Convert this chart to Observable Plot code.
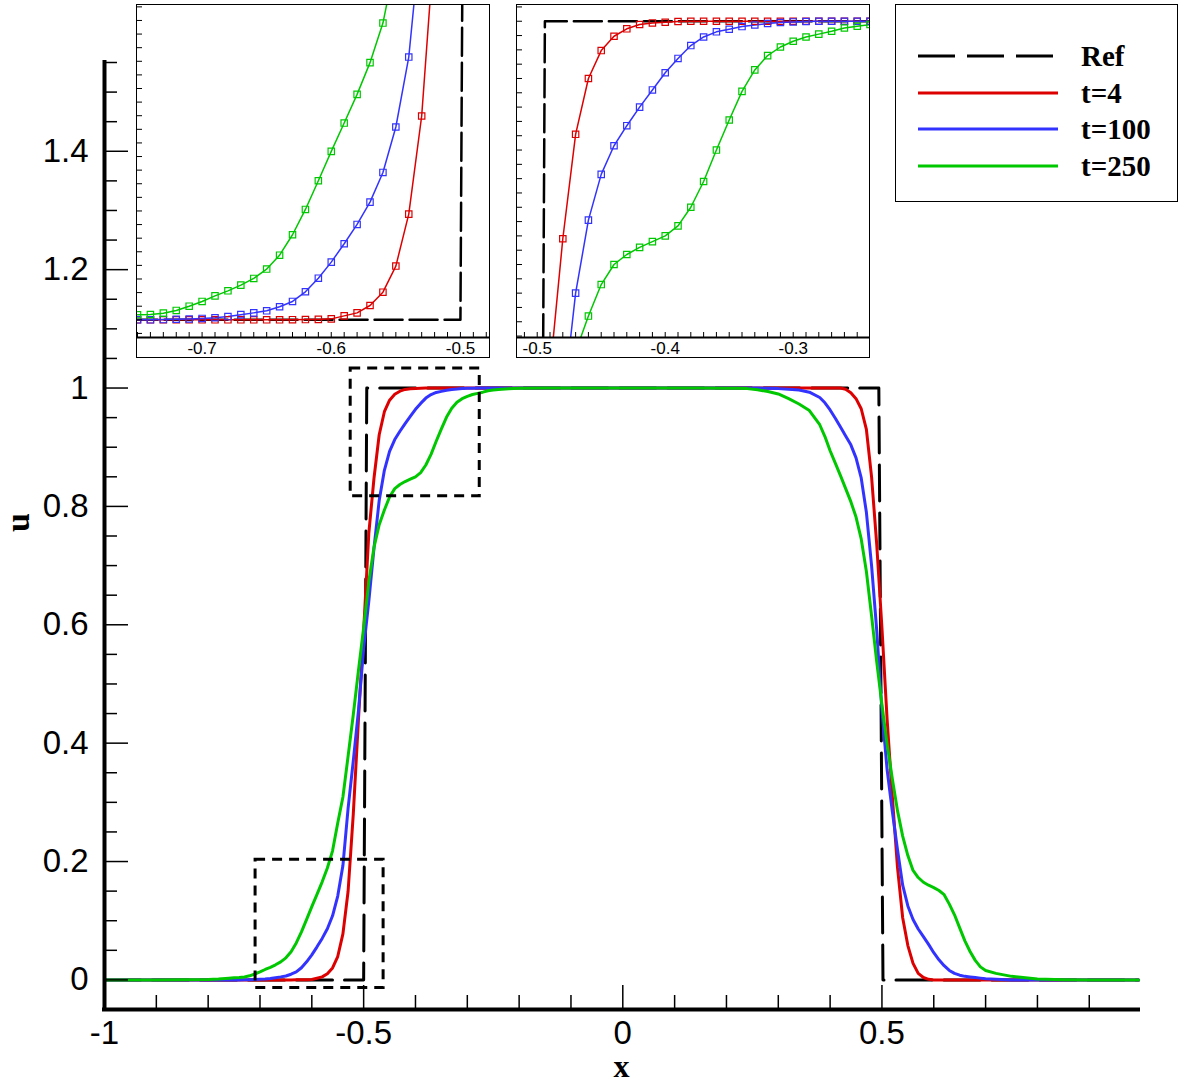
<!DOCTYPE html>
<html>
<head>
<meta charset="utf-8">
<script src="https://cdn.jsdelivr.net/npm/d3@7"></script>
<script src="https://cdn.jsdelivr.net/npm/@observablehq/plot@0.6"></script>
<style>
  body { margin: 0; background: #fff; }
  #wrap { position: relative; width: 1182px; height: 1089px; overflow: hidden; background: #fff; }
  .box { position: absolute; background: #fff; border: 1.5px solid #000; }
  .box svg { display: block; }
</style>
</head>
<body>
<div id="wrap"></div>
<script>
// ---------------- data ----------------
const names = ["Ref", "t=4", "t=100", "t=250"];
const colors = ["#000000", "#dd0000", "#3333ff", "#00c800"];

const refX = [-1, -0.5, -0.494, 0.494, 0.502, 0.995];
const refU = [0, 0, 1, 1, 0, 0];

const xs = [-1.0, -0.9, -0.85, -0.8, -0.78, -0.76,
  -0.75, -0.74, -0.73, -0.72, -0.71, -0.70, -0.69, -0.68, -0.67, -0.66,
  -0.65, -0.64, -0.63, -0.62, -0.61, -0.60, -0.59, -0.58, -0.57, -0.56,
  -0.55, -0.54, -0.53, -0.52, -0.51, -0.50, -0.49, -0.48, -0.47, -0.46,
  -0.45, -0.44, -0.43, -0.42, -0.41, -0.40, -0.39, -0.38, -0.37, -0.36,
  -0.35, -0.34, -0.33, -0.32, -0.31, -0.30, -0.29, -0.28, -0.27, -0.26,
  -0.25, -0.24, -0.22, -0.20, -0.15, -0.10, 0, 0.10, 0.15, 0.20,
  0.22, 0.24, 0.26, 0.28, 0.30, 0.32, 0.34, 0.36, 0.38, 0.39,
  0.40, 0.41, 0.42, 0.43, 0.44, 0.45, 0.46, 0.47, 0.48, 0.49,
  0.50, 0.51, 0.52, 0.53, 0.54, 0.55, 0.56, 0.57, 0.58, 0.59,
  0.60, 0.61, 0.62, 0.63, 0.64, 0.65, 0.66, 0.67, 0.68, 0.69,
  0.70, 0.72, 0.75, 0.80, 0.85, 0.90, 0.995];

const uT4 = [0, 0, 0, 0, 0, 0,
  0, 0, 0, 0, 0, 0, 0, 0, 0, 0,
  0, 0, 0.0001, 0.0002, 0.0003, 0.0007, 0.0029, 0.0051, 0.0105, 0.0203,
  0.0395, 0.0777, 0.1498, 0.28, 0.44, 0.59, 0.755, 0.848, 0.921, 0.960,
  0.9795, 0.9895, 0.9947, 0.9977, 0.9988, 0.9993, 0.9998, 1, 1, 1,
  1, 1, 1, 1, 1, 1, 1, 1, 1, 1,
  1, 1, 1, 1, 1, 1, 1, 1, 1, 1,
  1, 1, 1, 1, 1, 1, 1, 1, 1, 1,
  1, 1, 1, 0.998, 0.992, 0.982, 0.965, 0.93, 0.85, 0.735,
  0.595, 0.44, 0.31, 0.19, 0.105, 0.058, 0.028, 0.011, 0.004, 0.001,
  0, 0, 0, 0, 0, 0, 0, 0, 0, 0,
  0, 0, 0, 0, 0, 0, 0];

const uT100 = [0, 0, 0, 0, 0, 0,
  0, 0, 0.0002, 0.0004, 0.0006, 0.0010, 0.0015, 0.0024, 0.0038, 0.0051,
  0.0066, 0.0096, 0.0135, 0.0206, 0.0306, 0.0424, 0.0559, 0.0701, 0.0865, 0.1083,
  0.1417, 0.1931, 0.29, 0.37, 0.455, 0.56, 0.64, 0.73, 0.810, 0.861,
  0.893, 0.913, 0.927, 0.940, 0.952, 0.964, 0.974, 0.983, 0.989, 0.9926,
  0.9944, 0.9963, 0.9974, 0.9984, 0.9991, 0.9995, 0.9998, 1, 1, 1,
  1, 1, 1, 1, 1, 1, 1, 1, 1, 1,
  1, 1, 1, 0.9995, 0.999, 0.998, 0.9967, 0.993, 0.984, 0.975,
  0.963, 0.949, 0.934, 0.919, 0.904, 0.882, 0.848, 0.79, 0.70, 0.59,
  0.455, 0.355, 0.285, 0.22, 0.16, 0.125, 0.102, 0.086, 0.073, 0.06,
  0.046, 0.034, 0.024, 0.016, 0.011, 0.008, 0.006, 0.005, 0.004, 0.003,
  0.002, 0.001, 0, 0, 0, 0, 0];

const uT250 = [0, 0, 0.0002, 0.0008, 0.0016, 0.003,
  0.0037, 0.0039, 0.0049, 0.0069, 0.0100, 0.0135, 0.0176, 0.0213, 0.0255, 0.0304,
  0.0373, 0.0475, 0.0625, 0.0811, 0.1022, 0.1238, 0.1446, 0.1657, 0.1890, 0.2181,
  0.265, 0.309, 0.378, 0.448, 0.523, 0.595, 0.673, 0.731, 0.769, 0.794,
  0.816, 0.830, 0.837, 0.842, 0.846, 0.850, 0.857, 0.870, 0.888, 0.910,
  0.931, 0.951, 0.966, 0.976, 0.982, 0.986, 0.989, 0.991, 0.993, 0.9953,
  0.9965, 0.9977, 0.9988, 0.9995, 1, 1, 1, 1, 1, 0.9998,
  0.9995, 0.999, 0.997, 0.994, 0.99, 0.982, 0.973, 0.962, 0.938, 0.918,
  0.894, 0.873, 0.852, 0.830, 0.808, 0.782, 0.745, 0.69, 0.615, 0.537,
  0.465, 0.398, 0.34, 0.286, 0.243, 0.21, 0.185, 0.173, 0.165, 0.160,
  0.156, 0.151, 0.144, 0.128, 0.11, 0.088, 0.066, 0.048, 0.033, 0.022,
  0.016, 0.011, 0.006, 0.0015, 0.0003, 0, 0];

// zoom windows drawn as dashed boxes on the main plot
const boxX1 = [-0.7085, -0.525];
const boxX2 = [-0.4615, -0.276];
const boxY1 = [-0.0135, 0.817];
const boxY2 = [0.203, 1.033];

// ticks
const yMajor = [0, 0.2, 0.4, 0.6, 0.8, 1, 1.2, 1.4];
const yMinor = d3.range(1, 32).map(i => +(i * 0.05).toFixed(2)).filter(v => !yMajor.includes(v));
const xMajor = [-1, -0.5, 0, 0.5];
const xMinor = [-0.9, -0.8, -0.7, -0.6, -0.4, -0.3, -0.2, -0.1, 0.1, 0.2, 0.3, 0.4, 0.6, 0.7, 0.8, 0.9];

// ---------------- build tables ----------------
const serU = [uT4, uT100, uT250];
const rows = serU.flatMap((u, s) => xs.map((x, i) => ({x, u: u[i], name: names[s + 1]})));
const ref = refX.map((x, i) => ({x, u: refU[i]}));
const boxes = boxX1.map((_, i) => ({x1: boxX1[i], x2: boxX2[i], y1: boxY1[i], y2: boxY2[i]}));
const colorScale = {domain: names, range: colors};

const wrap = document.getElementById("wrap");

// ---------------- main plot ----------------
const W = 1182, H = 1089, mL = 104, mR = 44, mT = 62, mB = 80;
const fW = W - mL - mR, fH = H - mT - mB;
const serif = "'Liberation Serif', 'Times New Roman', serif";

const main = Plot.plot({
  width: W, height: H,
  marginLeft: mL, marginRight: mR, marginTop: mT, marginBottom: mB,
  x: {domain: [-1, 0.995]},
  y: {domain: [-0.05, 1.55]},
  color: colorScale,
  style: {fontFamily: "'Liberation Sans', Arial, sans-serif", background: "white", color: "black"},
  marks: [
    Plot.line(ref, {x: "x", y: "u", stroke: "black", strokeWidth: 3, strokeDasharray: "36,12"}),
    Plot.line(rows, {x: "x", y: "u", z: "name", stroke: "name", strokeWidth: 3}),
    Plot.rect(boxes, {x1: "x1", x2: "x2", y1: "y1", y2: "y2", fill: "none", stroke: "black", strokeWidth: 3, strokeDasharray: "10,7"}),
    Plot.tickY(yMinor, {y: d => d, insetRight: fW - 13, stroke: "black", strokeWidth: 1.5}),
    Plot.tickY(yMajor, {y: d => d, insetRight: fW - 24, stroke: "black", strokeWidth: 1.5}),
    Plot.tickX(xMinor, {x: d => d, insetTop: fH - 14, stroke: "black", strokeWidth: 1.5}),
    Plot.tickX(xMajor, {x: d => d, insetTop: fH - 24, stroke: "black", strokeWidth: 1.5}),
    Plot.ruleX([-1], {stroke: "black", strokeWidth: 4, strokeLinecap: "square"}),
    Plot.ruleY([-0.05], {stroke: "black", strokeWidth: 4, strokeLinecap: "square"}),
    Plot.axisY({ticks: yMajor, tickSize: 0, tickPadding: 16, fontSize: 33, tickFormat: d => String(d), label: null}),
    Plot.axisX({ticks: xMajor, tickSize: 0, tickPadding: 11, fontSize: 33, tickFormat: d => String(d), label: null}),
    Plot.text(["u"], {text: d => d, frameAnchor: "left", dx: -86, dy: -4, rotate: -90, fontSize: 34, fontWeight: "bold", fontFamily: serif}),
    Plot.text(["x"], {text: d => d, frameAnchor: "bottom", dy: 67, fontSize: 32, fontWeight: "bold", fontFamily: serif})
  ]
});
wrap.appendChild(main);

// ---------------- insets ----------------
function makeInset(cfg) {
  const IW = 352, IH = 352, imB = 20;
  const ifH = IH - imB;
  const svg = Plot.plot({
    width: IW, height: IH,
    marginLeft: 0, marginRight: 0, marginTop: 0, marginBottom: imB,
    x: {domain: cfg.xDomain},
    y: {domain: cfg.yDomain, axis: null},
    color: colorScale,
    style: {fontFamily: "'Liberation Sans', Arial, sans-serif", background: "white", color: "black"},
    marks: [
      Plot.line(ref, {x: "x", y: "u", stroke: "black", strokeWidth: 2.5, strokeDasharray: "28,7", clip: true}),
      Plot.line(rows, {x: "x", y: "u", z: "name", stroke: "name", strokeWidth: 1.5, clip: true}),
      Plot.dot(rows, {x: "x", y: "u", stroke: "name", symbol: "square", r: 3.6, fill: "none", strokeWidth: 1.2, clip: true}),
      Plot.tickY(cfg.yTicks, {y: d => d, insetRight: IW - 5, stroke: "black", strokeWidth: 1}),
      Plot.tickX(cfg.xTicks, {x: d => d, insetTop: ifH - 5, stroke: "black", strokeWidth: 1}),
      Plot.ruleY([cfg.yDomain[0]], {stroke: "black", strokeWidth: 2}),
      Plot.axisX({ticks: cfg.xLabels, tickSize: 0, tickPadding: 4, fontSize: 17, tickFormat: d => String(d), label: null})
    ]
  });
  const div = document.createElement("div");
  div.className = "box";
  div.style.left = cfg.left + "px";
  div.style.top = cfg.top + "px";
  div.appendChild(svg);
  wrap.appendChild(div);
}

makeInset({
  xDomain: [-0.75, -0.4775], yDomain: [-0.013, 0.231],
  xTicks: d3.range(-75, -47).map(i => i / 100),
  yTicks: d3.range(-1, 24).map(i => i / 100),
  xLabels: [-0.7, -0.6, -0.5],
  left: 136, top: 4
});
makeInset({
  xDomain: [-0.5154, -0.2404], yDomain: [0.779, 1.011],
  xTicks: d3.range(-51, -23).map(i => i / 100),
  yTicks: d3.range(78, 102).map(i => i / 100),
  xLabels: [-0.5, -0.4, -0.3],
  left: 516, top: 4
});

// ---------------- legend ----------------
const leg = document.createElement("div");
leg.className = "box";
leg.style.left = "895px";
leg.style.top = "4px";
leg.style.width = "281px";
leg.style.height = "196px";
wrap.appendChild(leg);
const lsvg = d3.select(leg).append("svg").attr("width", 281).attr("height", 196);
const rowY = [51, 88, 124, 161];
names.forEach((n, i) => {
  lsvg.append("line")
    .attr("x1", 22).attr("x2", 162).attr("y1", rowY[i]).attr("y2", rowY[i])
    .attr("stroke", colors[i]).attr("stroke-width", 3)
    .attr("stroke-dasharray", i === 0 ? "37,12" : null);
  lsvg.append("text")
    .attr("x", 185).attr("y", rowY[i]).attr("dy", "0.35em")
    .attr("font-family", serif).attr("font-weight", "bold").attr("font-size", 29)
    .attr("fill", "black")
    .text(n);
});
</script>
</body>
</html>
